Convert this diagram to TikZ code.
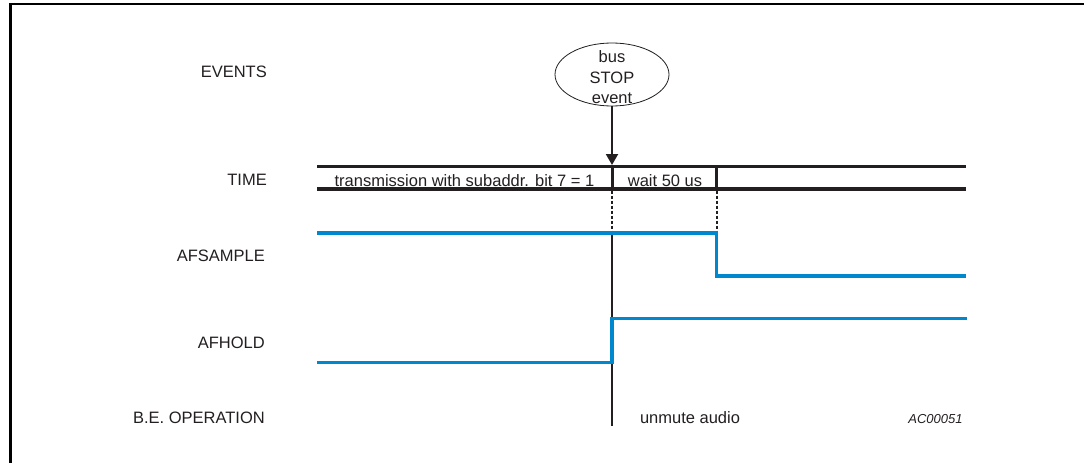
\documentclass[tikz,border=0pt]{standalone}
\usepackage{fontspec}
\setmainfont{Liberation Sans}
\usetikzlibrary{shapes.geometric,arrows.meta}
\definecolor{sigblue}{RGB}{0,136,206}
\definecolor{ink}{RGB}{35,31,32}
\begin{document}
\begin{tikzpicture}[x=1pt,y=-1pt,
  lbl/.style={anchor=east,inner sep=0pt,font=\fontsize{16.5}{18}\selectfont,text=ink},
  txt/.style={inner sep=0pt,font=\fontsize{16.5}{18}\selectfont,text=ink},
  timeline/.style={line width=3.5pt,draw=ink},
  tickmark/.style={line width=3pt,draw=ink},
  sig/.style={line width=3.5pt,draw=sigblue},
  guide/.style={line width=2pt,draw=ink},
  dashguide/.style={line width=2pt,draw=ink,dash pattern=on 3pt off 2pt},
  frameline/.style={line width=2.5pt,draw=black}]
\useasboundingbox (0,0) rectangle (1084,463);
% frame
\draw[frameline] (10.5,463) -- (10.5,4) -- (1084,4);
% row labels
\node[lbl] (lev) at (267,71.5) {EVENTS};
\node[lbl] (ltime) at (267,179.5) {TIME};
\node[lbl] (lsample) at (265,255.5) {AFSAMPLE};
\node[lbl] (lhold) at (265,343) {AFHOLD};
\node[lbl] (lbe) at (265,418) {B.E. OPERATION};
% coordinates
\coordinate (t0top) at (317,166.5);
\coordinate (t1top) at (966,166.5);
\coordinate (t0bot) at (317,189);
\coordinate (t1bot) at (966,189);
\coordinate (stopTop) at (612,166.5);
\coordinate (stopBot) at (612,189);
\coordinate (waitTop) at (716.7,166.5);
\coordinate (waitBot) at (716.7,189);
\coordinate (arrTip) at (612,165);
% guides
\draw[dashguide] (612,190.5) -- (612,231);
\draw[dashguide] (716.7,190.5) -- (716.7,231);
\draw[guide] (612,231) -- (612,426);
% time bus
\draw[timeline] (t0top) -- (t1top);
\draw[timeline] (t0bot) -- (t1bot);
\draw[tickmark] (stopTop) -- (stopBot);
\draw[tickmark] (waitTop) -- (waitBot);
\node[txt] (ttrans) at (464.5,181) {transmission with subaddr. bit 7 = 1};
\node[txt] (twait) at (665,181) {wait 50 us};
% event
\node[ellipse,draw=ink,line width=0.8pt,minimum width=114pt,minimum height=63pt,inner sep=0pt] (ev) at (612,74.5) {};
\node[txt,align=center,font=\fontsize{16.5}{20.5}\selectfont] (evt) at (612,77.5) {bus\\STOP\\event};
\draw[guide,-{Triangle[width=12pt,length=11pt]}] (ev.south) -- (arrTip);
% signals
\draw[sig] (317,233) -- (716.5,233) -- (716.5,276) -- (966,276);
\draw[sig] (317,362.7) -- (612,362.7) -- (612,318.7) -- (966.5,318.7);
% bottom texts
\node[txt] (unm) at (690,417.5) {unmute audio};
\node[txt,font=\fontsize{13}{15}\selectfont\itshape] (acode) at (935.5,419) {AC00051};
\end{tikzpicture}
\end{document}
